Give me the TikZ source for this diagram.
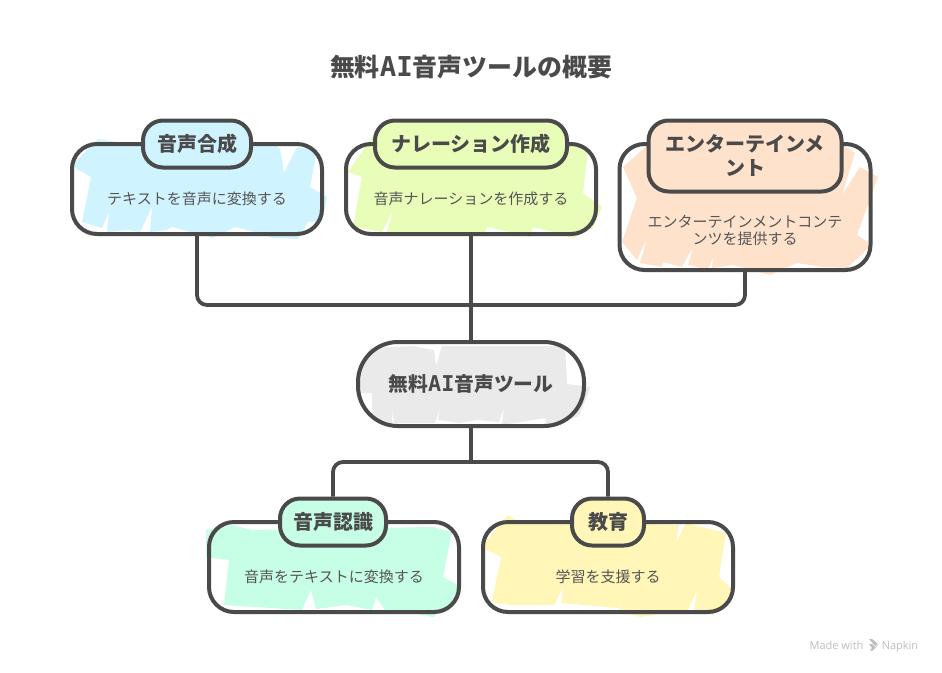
\documentclass[tikz,border=0pt]{standalone}
\usepackage{fontspec}
\setmainfont{Noto Sans CJK JP}
\newfontfamily\napkinfont{Open Sans}
\newfontfamily\slabfont[Scale=1.1,BoldFont={DejaVu Sans Mono Bold}]{DejaVu Sans Mono}
\definecolor{ink}{HTML}{4A4A4A}
\definecolor{muted}{HTML}{555555}
\definecolor{wm}{HTML}{BDBDBD}
\definecolor{skyc}{HTML}{D0F4FF}
\definecolor{limec}{HTML}{E8FDB8}
\definecolor{peachc}{HTML}{FFE2CC}
\definecolor{hubc}{HTML}{EAEAEA}
\definecolor{mintc}{HTML}{C6FFE6}
\definecolor{lemonc}{HTML}{FFF6B8}
\tikzset{
  panel/.style={draw=ink, line width=4pt, rounded corners=25pt, inner sep=0pt, minimum width=250pt, minimum height=90pt},
  pill/.style={draw=ink, line width=4pt, rounded corners=20pt, inner sep=0pt, minimum height=47pt, text=ink, font=\fontsize{20}{24}\selectfont\bfseries, align=center},
  desc/.style={text=muted, font=\fontsize{15}{17}\selectfont, align=center, inner sep=0pt},
  link/.style={draw=ink, line width=3.8pt, rounded corners=10pt},
  mark text/.style={text=wm, font=\napkinfont\fontsize{11}{13}\selectfont, inner sep=0pt, anchor=base},
}
\begin{document}
\begin{tikzpicture}[x=1pt,y=-1pt]
  \useasboundingbox (0,0) rectangle (942,672);
  % scrubbed fills
  \fill[skyc] (75,162)--(98,139)--(123,143)--(253,147)--(268,142)--(280,148)--(284,173)--(297,147)--(317,150)--(310,187)--(327,197)--(322,222)--(308,222)--(298,239)--(273,238)--(255,232)--(235,227)--(213,238)--(172,227)--(167,230)--(150,232)--(152,207)--(140,232)--(128,230)--(107,232)--(109,212)--(102,228)--(82,222)--(91,177)--(75,168)--cycle;
  \fill[limec] (348,172)--(372,137)--(568,143)--(588,150)--(583,193)--(602,207)--(593,228)--(573,238)--(557,233)--(533,227)--(530,237)--(510,232)--(487,227)--(483,237)--(470,232)--(417,236)--(405,232)--(387,232)--(393,210)--(382,232)--(372,230)--(353,227)--(362,177)--cycle;
  \fill[peachc] (623,167)--(650,143)--(840,143)--(855,153)--(842,195)--(860,167)--(878,177)--(857,235)--(872,245)--(847,268)--(823,267)--(828,253)--(823,267)--(797,263)--(770,275)--(733,265)--(712,268)--(713,257)--(708,270)--(688,265)--(693,247)--(682,267)--(663,262)--(662,267)--(640,263)--(647,238)--(637,260)--(622,242)--(637,198)--cycle;
  \fill[hubc] (370,348)--(413,346)--(434,350)--(436,366)--(442,346)--(565,346)--(567,384)--(590,387)--(588,394)--(579,416)--(547,427)--(545,418)--(502,425)--(504,408)--(499,422)--(477,420)--(459,423)--(438,420)--(440,408)--(435,423)--(394,423)--(392,410)--(392,423)--(372,417)--(372,393)--(358,393)--(358,373)--cycle;
  \fill[mintc] (206,530)--(233,525)--(251,530)--(433,527)--(452,532)--(443,577)--(458,585)--(456,600)--(433,617)--(408,612)--(385,610)--(376,597)--(372,610)--(347,605)--(316,609)--(311,590)--(302,610)--(224,605)--(229,560)--(206,557)--cycle;
  \fill[lemonc] (481,547)--(508,515)--(517,520)--(679,525)--(676,543)--(686,523)--(726,533)--(719,577)--(731,588)--(729,603)--(713,615)--(694,610)--(697,590)--(688,610)--(640,617)--(619,610)--(624,597)--(619,608)--(561,603)--(563,587)--(554,605)--(533,605)--(511,605)--(492,602)--(501,557)--cycle;
  % title
  \node[text=ink, font=\fontsize{24.9}{30}\selectfont\bfseries, inner sep=0pt] (title) at (471,67.5) {無料{\slabfont AI}音声ツールの概要};
  % panels
  \node[panel] (synthbox) at (197,189) {};
  \node[panel] (narrbox) at (471,189) {};
  \node[panel, minimum width=251pt, minimum height=126pt] (entbox) at (745,207) {};
  \node[panel] (recogbox) at (334,567) {};
  \node[panel] (edubox) at (608,567) {};
  % headings
  \node[pill, fill=skyc, minimum width=108pt] (synth) at (197,144) {音声合成};
  \node[pill, fill=limec, minimum width=192pt] (narr) at (471,144) {ナレーション作成};
  \node[pill, fill=peachc, minimum width=193pt, minimum height=71pt] (ent) at (745,156) {エンターテインメ\\ント};
  \node[pill, fill=mintc, minimum width=106pt] (recog) at (333,522) {音声認識};
  \node[pill, fill=lemonc, minimum width=72pt] (edu) at (608,522) {教育};
  \node[draw=ink, line width=4pt, rounded corners=40pt, minimum width=226pt, minimum height=84pt, inner sep=0pt, text=ink, font=\fontsize{19.8}{24}\selectfont\bfseries] (hub) at (471,384) {無料{\slabfont AI}音声ツール};
  % descriptions
  \node[desc] (synthtxt) at (197,198.5) {テキストを音声に変換する};
  \node[desc] (narrtxt) at (471,198.5) {音声ナレーションを作成する};
  \node[desc] (enttxt) at (745,230) {エンターテインメントコンテ\\ンツを提供する};
  \node[desc] (recogtxt) at (334,576.5) {音声をテキストに変換する};
  \node[desc] (edutxt) at (608,576.5) {学習を支援する};
  % connectors
  \coordinate (upbus) at (471,305);
  \coordinate (lowbus) at (471,462);
  \draw[link] (synthbox.south) |- (upbus);
  \draw[link] (entbox.south) |- (upbus);
  \draw[link] (narrbox.south) -- (hub.north);
  \draw[link] (hub.south) -- (lowbus);
  \draw[link] (recog.north) |- (lowbus);
  \draw[link] (edu.north) |- (lowbus);
  % watermark
  \node[mark text] (made) at (836.5,649) {Made with};
  \node[mark text] (napkin) at (900,649) {Napkin};
  \fill[wm] (869,639)--(872,639)--(878,644)--(875,646)--cycle;
  \fill[wm] (869,644)--(872,644)--(875,647)--(878,645)--(872,651)--(870,650)--(872,648)--cycle;
\end{tikzpicture}
\end{document}
